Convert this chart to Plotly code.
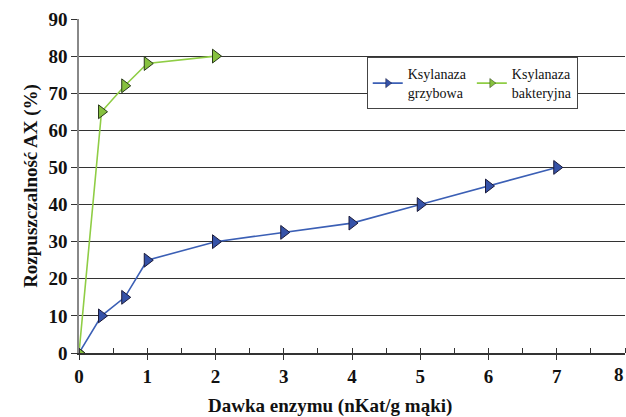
import plotly.graph_objects as go

# Dawka enzymu (nKat/g mąki) i rozpuszczalność AX (%)
dose_fungal = [0, 0.33, 0.67, 1, 2, 3, 4, 5, 6, 7]
solub_fungal = [0, 10, 15, 25, 30, 32.5, 35, 40, 45, 50]
dose_bacterial = [0, 0.33, 0.67, 1, 2]
solub_bacterial = [0, 65, 72, 78, 80]
x_ticks = [0, 1, 2, 3, 4, 5, 6, 7, 8]

font_family = "Liberation Serif, DejaVu Serif, serif"
blue_line, blue_fill = "#3b5fb5", "#3552a8"
green_line, green_fill = "#8fcd45", "#86c13e"

fig = go.Figure()
fig.add_trace(go.Scatter(
    x=dose_fungal, y=solub_fungal, mode="lines+markers", showlegend=False,
    line=dict(color=blue_line, width=1.6),
    marker=dict(symbol="triangle-right", size=12, color=blue_fill,
                line=dict(color="#1a1a3a", width=1)),
))
fig.add_trace(go.Scatter(
    x=dose_bacterial, y=solub_bacterial, mode="lines+markers", showlegend=False,
    line=dict(color=green_line, width=1.6),
    marker=dict(symbol="triangle-right", size=12, color=green_fill,
                line=dict(color="#2a3a1a", width=1)),
))
# legend entries with smaller symbols
fig.add_trace(go.Scatter(
    x=[None], y=[None], mode="lines+markers", name="Ksylanaza<br>grzybowa",
    line=dict(color=blue_line, width=1.6),
    marker=dict(symbol="triangle-right", size=8, color=blue_fill,
                line=dict(color="#1a1a3a", width=0.5)),
))
fig.add_trace(go.Scatter(
    x=[None], y=[None], mode="lines+markers", name="Ksylanaza<br>bakteryjna",
    line=dict(color=green_line, width=1.6),
    marker=dict(symbol="triangle-right", size=8, color=green_fill,
                line=dict(color="#2a3a1a", width=0.5)),
))

# last x tick label sits at the right edge of the figure
fig.add_annotation(
    x=x_ticks[-1], y=0, xref="x", yref="y", text=str(x_ticks[-1]),
    showarrow=False, yanchor="top", xanchor="right", yshift=-9, xshift=1,
    font=dict(size=19, family=font_family, weight="bold", color="#111"),
)
# x axis title
fig.add_annotation(
    x=0.459, y=0, xref="paper", yref="paper", yanchor="top", yshift=-40,
    text="Dawka enzymu (nKat/g mąki)", showarrow=False,
    font=dict(size=19, family=font_family, weight="bold", color="#111"),
)

fig.update_layout(
    width=626, height=417,
    margin=dict(l=79, r=1, t=19, b=64),
    plot_bgcolor="white", paper_bgcolor="white",
    font=dict(family=font_family, size=17, color="#111"),
    showlegend=True,
    legend=dict(
        orientation="h", x=0.527, y=0.885, xanchor="left", yanchor="top",
        bgcolor="white", bordercolor="#444", borderwidth=1,
        font=dict(size=14, family=font_family, color="#111"), itemwidth=30,
        tracegroupgap=0,
    ),
    xaxis=dict(
        range=[0, 8], tickmode="array", tickvals=x_ticks[:-1],
        showgrid=False, zeroline=False,
        showline=True, linecolor="#333", linewidth=1.5,
        ticks="outside", ticklen=5, tickcolor="#333",
        minor=dict(dtick=0.5, ticks="inside", ticklen=5, tickcolor="#333"),
        tickfont=dict(size=19, family=font_family, weight="bold"),
    ),
    yaxis=dict(
        range=[0, 90], dtick=10, tick0=0,
        showgrid=True, gridcolor="#333", gridwidth=1.2,
        zeroline=False,
        showline=True, linecolor="#888", linewidth=1.5,
        ticks="outside", ticklen=6, tickcolor="#333",
        tickfont=dict(size=19, family=font_family, weight="bold"),
        title=dict(text="Rozpuszczalność AX (%)",
                   font=dict(size=19, family=font_family, weight="bold"), standoff=6),
    ),
)

fig.write_html("out.html")
